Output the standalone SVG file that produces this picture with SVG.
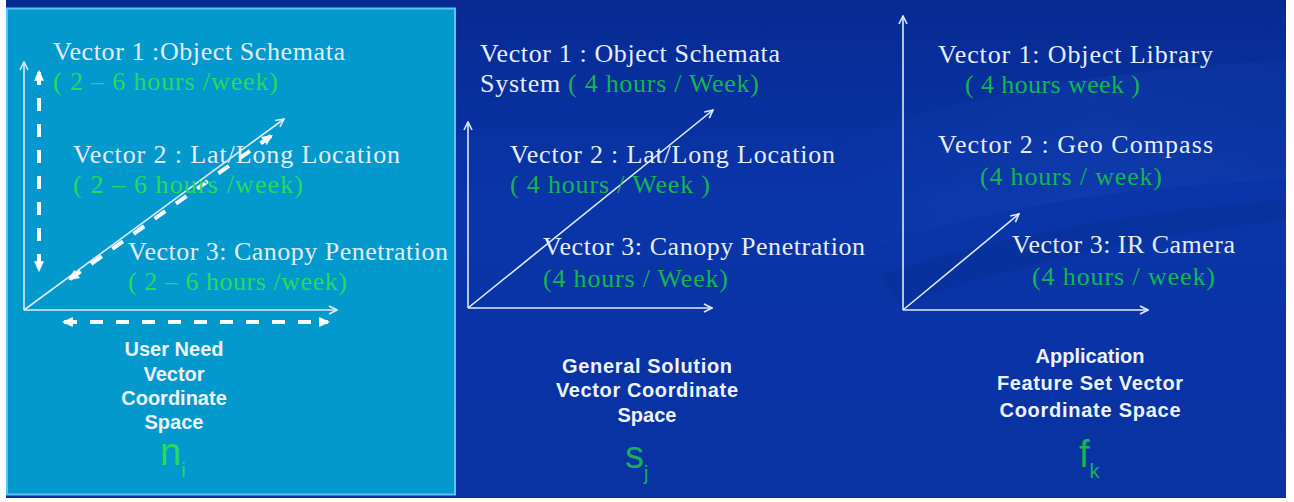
<svg xmlns="http://www.w3.org/2000/svg" width="1294" height="502" viewBox="0 0 1294 502">
  <style>
    .ser { font-family: "Liberation Serif", "Times New Roman", serif; font-size: 26px; fill: #e4ecf8; }
    .g1 { fill: #2bd85a; }
    .g2 { fill: #14b452; }
    .lab { font-family: "Liberation Sans", Arial, sans-serif; font-size: 20px; font-weight: bold; fill: #eef3fb; text-anchor: middle; }
    .sym { font-family: "Liberation Sans", Arial, sans-serif; font-size: 38px; }
    .sub { font-family: "Liberation Sans", Arial, sans-serif; font-size: 20px; }
    .axis { stroke: #dfe9fb; stroke-width: 1.6; fill: none; marker-end: url(#open); }
    .dash { stroke: #ffffff; stroke-width: 4; stroke-dasharray: 13 13; fill: none; marker-start: url(#solid); marker-end: url(#solid); }
  </style>
  <defs>
    <marker id="open" viewBox="0 0 10 10" refX="9" refY="5" markerWidth="10" markerHeight="10" markerUnits="userSpaceOnUse" orient="auto">
      <path d="M1,1 L9,5 L1,9" fill="none" stroke="#dfe9fb" stroke-width="1.6"/>
    </marker>
    <marker id="solid" viewBox="0 0 10 10" refX="8" refY="5" markerWidth="11" markerHeight="11" markerUnits="userSpaceOnUse" orient="auto-start-reverse">
      <path d="M0,0.5 L10,5 L0,9.5 Z" fill="#ffffff"/>
    </marker>
    <linearGradient id="bg" x1="0" y1="0" x2="0" y2="1">
      <stop offset="0" stop-color="#062a92"/>
      <stop offset="0.4" stop-color="#0a35a8"/>
      <stop offset="1" stop-color="#0932a2"/>
    </linearGradient>
    <linearGradient id="sheen" x1="0" y1="0" x2="1" y2="0">
      <stop offset="0" stop-color="#2a58c2" stop-opacity="0"/>
      <stop offset="0.6" stop-color="#2a58c2" stop-opacity="0.16"/>
      <stop offset="1" stop-color="#2a58c2" stop-opacity="0.08"/>
    </linearGradient>
  </defs>

  <!-- page -->
  <rect x="0" y="0" width="1294" height="502" fill="#ffffff"/>
  <rect x="6" y="0" width="1280" height="498" fill="url(#bg)"/>
  <!-- soft swooshes in the backdrop -->
  <path d="M820,150 C960,90 1120,70 1286,60 L1286,180 C1120,185 980,210 860,250 Z" fill="url(#sheen)"/>
  <path d="M880,275 C1000,235 1150,210 1286,200 L1286,220 C1150,235 1010,265 900,305 Z" fill="#052a88" opacity="0.3"/>

  <!-- user need panel -->
  <g id="panel-user-need">
    <rect x="7" y="8.5" width="448" height="486" fill="#0399cd" stroke="#5cc4f2" stroke-width="2"/>
  </g>

  <!-- connectors: axes and vector arrows -->
  <g id="connectors">
    <!-- user need space -->
    <line class="axis" x1="24" y1="310" x2="24" y2="62"/>
    <line class="axis" x1="24" y1="310" x2="337" y2="310"/>
    <line class="axis" x1="24" y1="310" x2="284" y2="119"/>
    <line class="dash" x1="39" y1="72" x2="39" y2="270"/>
    <line class="dash" x1="64" y1="322" x2="328" y2="322"/>
    <line class="dash" x1="70" y1="279" x2="271" y2="136"/>
    <!-- general solution space -->
    <line class="axis" x1="468" y1="308" x2="468" y2="122"/>
    <line class="axis" x1="468" y1="308" x2="712" y2="308"/>
    <line class="axis" x1="468" y1="308" x2="713" y2="110"/>
    <!-- application feature set space -->
    <line class="axis" x1="903" y1="310" x2="903" y2="16"/>
    <line class="axis" x1="903" y1="310" x2="1148" y2="310"/>
    <line class="axis" x1="903" y1="310" x2="1019" y2="214"/>
  </g>

  <g id="user-need-vectors">
    <text class="ser" x="53" y="60" textLength="292">Vector 1 :Object Schemata</text>
    <text class="ser g1" x="53" y="90" textLength="225">( 2 – 6 hours /week)</text>
    <text class="ser" x="73" y="163" textLength="327">Vector 2 : Lat/Long Location</text>
    <text class="ser g1" x="73" y="193" textLength="230">( 2 – 6 hours /week)</text>
    <text class="ser" x="128" y="260" textLength="320">Vector 3: Canopy Penetration</text>
    <text class="ser g1" x="128" y="290" textLength="219">( 2 – 6 hours /week)</text>
  </g>
  <g id="user-need-label">
    <text class="lab" x="174" y="356">User Need</text>
    <text class="lab" x="174" y="381">Vector</text>
    <text class="lab" x="174" y="405">Coordinate</text>
    <text class="lab" x="174" y="429">Space</text>
    <text x="160" y="465" class="sym g1">n<tspan class="sub" dy="12">i</tspan></text>
  </g>

  <g id="general-solution-vectors">
    <text class="ser" x="480" y="62" textLength="300">Vector 1 : Object Schemata</text>
    <text class="ser" x="480" y="92" textLength="279">System <tspan class="g2">( 4 hours / Week)</tspan></text>
    <text class="ser" x="510" y="163" textLength="325">Vector 2 : Lat/Long Location</text>
    <text class="ser g2" x="510" y="193" textLength="200">( 4 hours / Week )</text>
    <text class="ser" x="543" y="255" textLength="322">Vector 3: Canopy Penetration</text>
    <text class="ser g2" x="543" y="287" textLength="185">(4 hours / Week)</text>
  </g>
  <g id="general-solution-label">
    <text class="lab" x="647" y="373" textLength="170">General Solution</text>
    <text class="lab" x="647" y="397" textLength="182">Vector Coordinate</text>
    <text class="lab" x="647" y="422">Space</text>
    <text x="625" y="468" class="sym g2">s<tspan class="sub" dy="12">j</tspan></text>
  </g>

  <g id="feature-set-vectors">
    <text class="ser" x="938" y="63" textLength="275">Vector 1:  Object Library</text>
    <text class="ser g2" x="965" y="93" textLength="175">( 4 hours week )</text>
    <text class="ser" x="938" y="153" textLength="275">Vector 2 :  Geo Compass</text>
    <text class="ser g2" x="980" y="185" textLength="182">(4 hours / week)</text>
    <text class="ser" x="1012" y="253" textLength="223">Vector 3: IR Camera</text>
    <text class="ser g2" x="1032" y="285" textLength="183">(4 hours / week)</text>
  </g>
  <g id="feature-set-label">
    <text class="lab" x="1090" y="363">Application</text>
    <text class="lab" x="1090" y="390" textLength="186">Feature Set Vector</text>
    <text class="lab" x="1090" y="417" textLength="181">Coordinate Space</text>
    <text x="1079" y="467" class="sym g2">f<tspan class="sub" dy="11">k</tspan></text>
  </g>
</svg>
